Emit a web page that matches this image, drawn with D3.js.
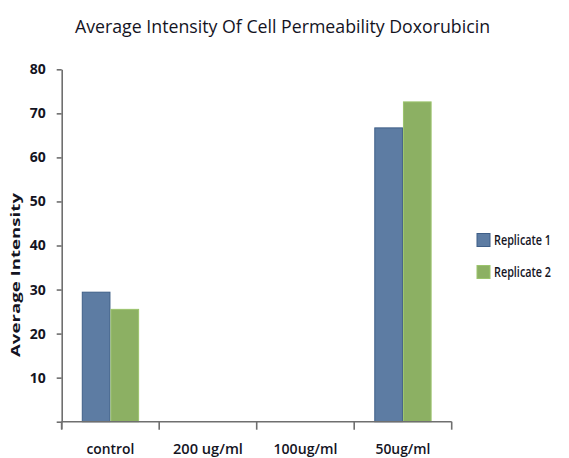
<!DOCTYPE html>
<html>
<head>
<meta charset="utf-8">
<script src="https://cdn.jsdelivr.net/npm/d3@7/dist/d3.min.js"></script>
<style>
  html, body { margin: 0; padding: 0; background: #fff; }
  svg { display: block; }
  text { font-family: "Open Sans", "DejaVu Sans", sans-serif; fill: #14141f; }
</style>
</head>
<body>
<svg id="chart" width="569" height="458"></svg>
<script>
const categories = ["control", "200 ug/ml", "100ug/ml", "50ug/ml"];
const seriesNames = ["Replicate 1", "Replicate 2"];
const replicate1 = [29.4, 0, 0, 66.7];
const replicate2 = [25.5, 0, 0, 72.6];
const yTicks = [0, 10, 20, 30, 40, 50, 60, 70, 80];
const colors = ["#5d7ca3", "#8cb063"];
const strokes = ["#3f5f88", "#9cc46d"];
const titleText = "Average Intensity Of Cell Permeability Doxorubicin";
const yTitle = "Average Intensity";

const svg = d3.select("#chart");
const plotLeft = 61.7, plotRight = 451.7, plotTop = 69.3, plotBottom = 421.7;

const x0 = d3.scaleBand().domain(categories).range([plotLeft, plotRight]).padding(0);
const bw = x0.bandwidth();
const x1 = d3.scaleBand().domain(seriesNames).range([bw * 0.206, bw * 0.794]).padding(0);
const y = d3.scaleLinear().domain([0, 80]).range([plotBottom, plotTop]);

// Title
svg.append("text")
  .attr("x", 75).attr("y", 33)
  .attr("font-size", 19).attr("font-weight", 500)
  .attr("textLength", 415).attr("lengthAdjust", "spacingAndGlyphs")
  .text(titleText);

// Bars
const data = categories.map((c, i) => ({ c, vals: [replicate1[i], replicate2[i]] }));
const groups = svg.append("g").selectAll("g").data(data).join("g")
  .attr("transform", d => `translate(${x0(d.c)},0)`);
groups.selectAll("rect")
  .data(d => d.vals.map((v, j) => ({ v, s: seriesNames[j], j })).filter(e => e.v > 0))
  .join("rect")
  .attr("x", e => x1(e.s) + 0.5)
  .attr("width", x1.bandwidth() - 1)
  .attr("y", e => y(e.v))
  .attr("height", e => plotBottom - y(e.v))
  .attr("fill", e => colors[e.j])
  .attr("stroke", e => strokes[e.j])
  .attr("stroke-width", 1);

// Y axis
const yAxis = d3.axisLeft(y).tickValues(yTicks).tickSize(5).tickSizeOuter(0).tickPadding(11)
  .tickFormat(d => d === 0 ? "" : d);
const gy = svg.append("g").attr("transform", `translate(${plotLeft},0)`).call(yAxis);
gy.select(".domain").attr("stroke", "#6f6f6f").attr("stroke-width", 1.6);
gy.selectAll(".tick line").attr("stroke", "#6f6f6f").attr("stroke-width", 1.6);
gy.selectAll(".tick text").attr("font-size", 14).attr("font-weight", "bold")
  .attr("fill", "#14141f").style("font-family", "'Open Sans', sans-serif");
gy.append("line").attr("x1", 0).attr("x2", 0).attr("y1", plotBottom).attr("y2", plotBottom + 7.5)
  .attr("stroke", "#6f6f6f").attr("stroke-width", 1.6);

// X axis
const gx = svg.append("g");
gx.append("line").attr("x1", plotLeft).attr("x2", plotRight).attr("y1", plotBottom).attr("y2", plotBottom)
  .attr("stroke", "#6f6f6f").attr("stroke-width", 1.6);
const boundaries = categories.map(c => x0(c)).concat([plotRight]);
gx.selectAll("line.tk").data(boundaries).join("line").attr("class", "tk")
  .attr("x1", d => d).attr("x2", d => d).attr("y1", plotBottom).attr("y2", plotBottom + 8)
  .attr("stroke", "#6f6f6f").attr("stroke-width", 1.6);
const xLabelLens = [48, 70, 64, 55];
gx.selectAll("text").data(categories).join("text")
  .attr("x", (d, i) => x0(d) + bw / 2 - xLabelLens[i] / 2)
  .attr("y", 453.5)
  .attr("font-size", 13.5).attr("font-weight", 600)
  .attr("textLength", (d, i) => xLabelLens[i]).attr("lengthAdjust", "spacingAndGlyphs")
  .text(d => d);

// Y title
svg.append("text")
  .attr("transform", "translate(20,275) rotate(-90)")
  .attr("text-anchor", "middle")
  .attr("font-size", 13).attr("font-weight", "bold")
  .attr("textLength", 164).attr("lengthAdjust", "spacingAndGlyphs")
  .text(yTitle);

// Legend
const legend = svg.append("g").attr("transform", "translate(477,0)");
const legY = [240, 272];
seriesNames.forEach((s, i) => {
  legend.append("rect").attr("x", 0).attr("y", legY[i] - 6.5).attr("width", 13).attr("height", 13)
    .attr("fill", colors[i]).attr("stroke", strokes[i]);
  legend.append("text").attr("x", 17).attr("y", legY[i] + 5)
    .attr("font-size", 14).attr("font-weight", 600)
    .attr("textLength", 57).attr("lengthAdjust", "spacingAndGlyphs")
    .text(s);
});
</script>
</body>
</html>
